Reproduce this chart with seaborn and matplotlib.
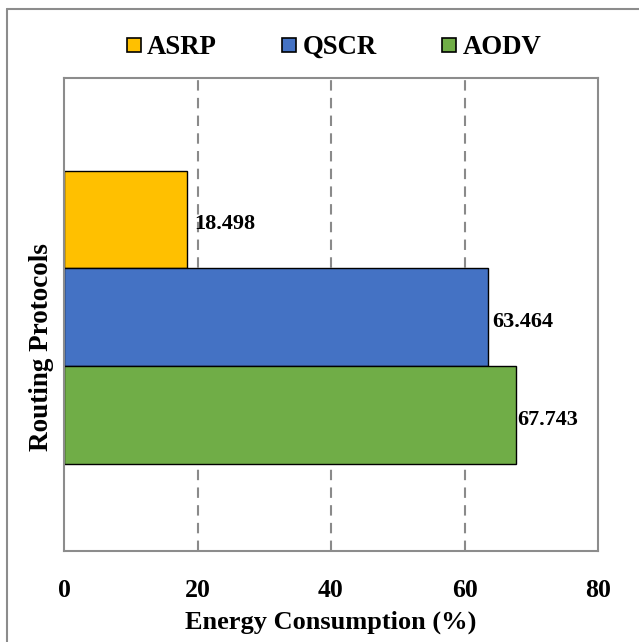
import matplotlib
matplotlib.use("Agg")
import matplotlib.pyplot as plt
from matplotlib.lines import Line2D
import pandas as pd
import seaborn as sns

protocols = ["ASRP", "QSCR", "AODV"]
energy = [18.498, 63.464, 67.743]
colors = ["#FFC000", "#4472C4", "#70AD47"]
x_ticks = [0, 20, 40, 60, 80]

df = pd.DataFrame({"Group": ["all"] * len(protocols),
                   "Protocol": protocols,
                   "Energy": energy})

sns.set_style("white")
plt.rcParams["font.family"] = ["Liberation Serif", "DejaVu Serif"]
plt.rcParams["font.weight"] = "bold"
plt.rcParams["text.color"] = "black"
plt.rcParams["axes.labelcolor"] = "black"
plt.rcParams["xtick.color"] = "black"

fig = plt.figure(figsize=(6.39, 6.42), dpi=100)
ax = fig.add_axes([64 / 639, 1 - 551 / 642, (598 - 64) / 639, (551 - 78) / 642])

sns.barplot(data=df, x="Energy", y="Group", hue="Protocol", hue_order=protocols,
            palette=colors, orient="h", width=0.62, dodge=True,
            edgecolor="black", linewidth=1.0, saturation=1, errorbar=None,
            legend=False, ax=ax)

# value labels sit just past each bar end
label_pads = [5.2, 3.0, 0.6]
for cont, pad in zip(ax.containers, label_pads):
    texts = ax.bar_label(cont, labels=[f"{v:.3f}" for v in cont.datavalues],
                         padding=pad, fontsize=16, fontweight="bold", color="black")
    for t in texts:
        t.set_va("center")
        x0, y0 = t.xyann
        t.xyann = (x0, y0 - 3.5)

ax.set_xlim(0, 80)
ax.set_ylim(0.494, -0.506)
ax.set_xticks(x_ticks)
ax.set_xticklabels([str(t) for t in x_ticks], fontsize=18.5, fontweight="bold")
ax.set_yticks([])
ax.tick_params(axis="x", length=0, pad=20)

ax.set_axisbelow(True)
for t in x_ticks[1:-1]:
    ax.axvline(t, color="#8a8a8a", linestyle=(0, (5, 3.5)), linewidth=1.5, zorder=0)

for sp in ax.spines.values():
    sp.set_color("#8c8c8c")
    sp.set_linewidth(1.5)

ax.set_xlabel("Energy Consumption (%)", fontsize=19, fontweight="bold", labelpad=6)
ax.set_ylabel("Routing Protocols", fontsize=19.5, fontweight="bold")
ax.yaxis.set_label_coords(-0.018, 0.432)

handles = [Line2D([], [], marker="s", linestyle="none", markersize=9.5,
                  markerfacecolor=c, markeredgecolor="black", markeredgewidth=1.2)
           for c in colors]
fig.legend(handles, protocols, loc="center", bbox_to_anchor=(0.522, 0.926),
           ncol=3, frameon=False, prop={"size": 19.3, "weight": "bold"},
           handlelength=0.6, handletextpad=0.2, columnspacing=2.4)

# chart-area border: top and left edges
fig.add_artist(Line2D([7 / 639, 1.0], [1 - 9 / 642, 1 - 9 / 642],
                      transform=fig.transFigure, color="#8c8c8c", linewidth=1.5))
fig.add_artist(Line2D([7 / 639, 7 / 639], [0.0, 1 - 9 / 642],
                      transform=fig.transFigure, color="#8c8c8c", linewidth=1.5))

fig.savefig("out.png", dpi=100)
